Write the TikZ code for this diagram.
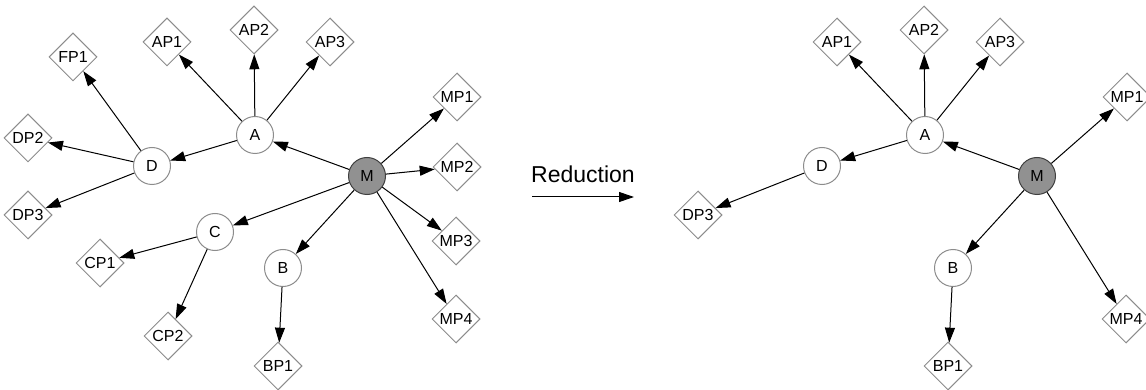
\documentclass[tikz,border=0pt]{standalone}
\usepackage{fontspec}
\setmainfont{Liberation Sans}
\usetikzlibrary{shapes.geometric,arrows.meta}
\definecolor{nodeline}{RGB}{140,140,140}
\definecolor{mfill}{RGB}{145,145,145}
\tikzset{
  circ/.style={circle, draw=nodeline, fill=white, line width=1pt, minimum size=37pt, inner sep=0pt, font=\fontsize{16}{16}\selectfont},
  mcirc/.style={circ, draw=black!75, fill=mfill},
  dia/.style={diamond, aspect=1, draw=nodeline, fill=white, line width=1pt, minimum size=48pt, inner sep=0pt, font=\fontsize{16}{16}\selectfont},
  edge/.style={draw=black, line width=1pt, -{Triangle[length=15pt,width=10pt]}},
}
\newcommand{\graphnodes}[1]{%
  \node[circ] (A) at (255,135) {A};
  \node[circ] (D) at (152,166) {D};
  \node[mcirc] (M) at (367,176) {M};
  \node[circ] (B) at (283,268) {B};
  \node[dia] (AP1) at (167,42) {AP1};
  \node[dia] (AP2) at (254,30) {AP2};
  \node[dia] (AP3) at (330,42) {AP3};
  \node[dia] (DP3) at (28,215) {DP3};
  \node[dia] (MP1) at (457,97) {MP1};
  \node[dia] (MP4) at (456,319) {MP4};
  \node[dia] (BP1) at (278,366) {BP1};
  \draw[edge] (M) -- (A);
  \draw[edge] (M) -- (MP1);
  \draw[edge] (M) -- (MP4);
  \draw[edge] (M) -- (B);
  \draw[edge] (A) -- (AP1);
  \draw[edge] (A) -- (AP2);
  \draw[edge] (A) -- (AP3);
  \draw[edge] (A) -- (D);
  \draw[edge] (D) -- (DP3);
  \draw[edge] (B) -- (BP1);
}
\begin{document}
\begin{tikzpicture}[x=1pt,y=-1pt]
\useasboundingbox (0,0) rectangle (1146,390);
% left graph
\begin{scope}[name prefix=l-]
  \graphnodes{}
  \node[circ] (C) at (215,232) {C};
  \node[dia] (FP1) at (73,57) {FP1};
  \node[dia] (DP2) at (28,138) {DP2};
  \node[dia] (MP2) at (457,167) {MP2};
  \node[dia] (MP3) at (456,241) {MP3};
  \node[dia] (CP1) at (100,263) {CP1};
  \node[dia] (CP2) at (168,336) {CP2};
  \draw[edge] (M) -- (MP2);
  \draw[edge] (M) -- (MP3);
  \draw[edge] (M) -- (C);
  \draw[edge] (D) -- (FP1);
  \draw[edge] (D) -- (DP2);
  \draw[edge] (C) -- (CP1);
  \draw[edge] (C) -- (CP2);
\end{scope}
% reduction arrow
\coordinate (rs) at (532,197);
\coordinate (re) at (634,197);
\draw[edge] (rs) -- (re);
\node[font=\fontsize{23}{23}\selectfont] (red) at (583,174) {Reduction};
% right graph
\begin{scope}[shift={(670,0)}, name prefix=r-]
  \graphnodes{}
\end{scope}
\end{tikzpicture}
\end{document}
